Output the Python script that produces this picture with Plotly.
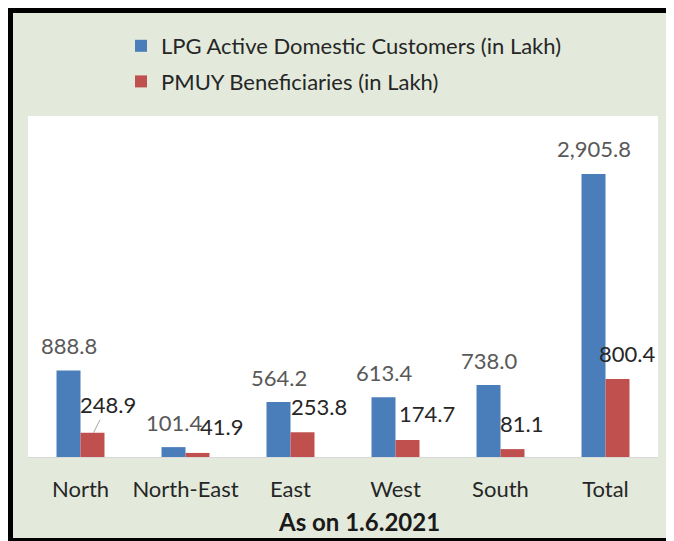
"""
LPG active domestic customers vs PMUY beneficiaries by region, grouped bar chart.
"""
import plotly.graph_objects as go

# data
regions = ["North", "North-East", "East", "West", "South", "Total"]
lpg_customers = [888.8, 101.4, 564.2, 613.4, 738.0, 2905.8]
pmuy_beneficiaries = [248.9, 41.9, 253.8, 174.7, 81.1, 800.4]
lpg_labels = ["888.8", "101.4", "564.2", "613.4", "738.0", "2,905.8"]
pmuy_labels = ["248.9", "41.9", "253.8", "174.7", "81.1", "800.4"]

# figure geometry (pixels, figure coords; the page adds an 8px body margin)
W, H = 658, 533
L, R, T, B = 20, 650, 108, 449

BLUE = "#4a7ebb"
RED = "#c0504d"
GREEN_BG = "#e3eadc"
FONT = "Lato"

# manual label nudges for the red series (px), like the dragged excel labels
red_dx = [14, 24, 16, 19, 9, 9]
red_leader = [True, False, False, False, False, False]


def px_x(px):
    return (px - L) / (R - L)


def px_y(py):
    return (B - py) / (B - T)


fig = go.Figure()

fig.add_trace(go.Bar(
    x=regions,
    y=lpg_customers,
    name="LPG Active Domestic Customers (in Lakh)",
    marker=dict(color=BLUE, line=dict(width=0)),
    legendgroup="a",
))
fig.add_trace(go.Bar(
    x=regions,
    y=pmuy_beneficiaries,
    name="PMUY Beneficiaries (in Lakh)",
    marker=dict(color=RED, line=dict(width=0)),
    legendgroup="b",
))

# data labels
annotations = []
for reg, val, lab in zip(regions, lpg_customers, lpg_labels):
    annotations.append(dict(
        x=reg, y=val, text=lab, showarrow=False,
        xshift=-12, yshift=25, yanchor="middle",
        font=dict(family=FONT, size=22, color="#595959"),
    ))
for reg, val, lab, dx, lead in zip(regions, pmuy_beneficiaries, pmuy_labels, red_dx, red_leader):
    if lead:
        annotations.append(dict(
            x=reg, y=val, text=lab, showarrow=True,
            xshift=13, ax=dx, ay=-28, arrowhead=0,
            arrowwidth=1, arrowcolor="#a6a6a6",
            font=dict(family=FONT, size=22, color="#262626"),
        ))
    else:
        annotations.append(dict(
            x=reg, y=val, text=lab, showarrow=False,
            xshift=12 + dx, yshift=26, yanchor="middle",
            font=dict(family=FONT, size=22, color="#262626"),
        ))

annotations.append(dict(
    x=px_x(351), y=px_y(513), xref="paper", yref="paper",
    text="<b>As on 1.6.2021</b>", showarrow=False,
    xanchor="center", yanchor="middle",
    font=dict(family=FONT, size=24, color="#1a1a1a"),
))

# thick black border on top, left and bottom of the chart
frame = [
    dict(x0=0, x1=W, y0=0, y1=5),
    dict(x0=0, x1=5, y0=0, y1=H),
    dict(x0=0, x1=W, y0=530, y1=H),
]
shapes = [
    dict(type="rect", xref="paper", yref="paper",
         x0=px_x(f["x0"]), x1=px_x(f["x1"]),
         y0=px_y(f["y1"]), y1=px_y(f["y0"]),
         fillcolor="black", line=dict(width=0), layer="above")
    for f in frame
]

fig.update_layout(
    width=W,
    height=H,
    margin=dict(l=L, r=W - R, t=T, b=H - B, pad=0),
    paper_bgcolor=GREEN_BG,
    plot_bgcolor="white",
    barmode="group",
    bargap=0.543,
    bargroupgap=0,
    font=dict(family=FONT, color="#262626"),
    showlegend=True,
    legend=dict(
        x=px_x(113), y=px_y(17), xanchor="left", yanchor="top",
        orientation="v", traceorder="grouped", tracegroupgap=4,
        bgcolor="rgba(0,0,0,0)",
        font=dict(family=FONT, size=22, color="#262626"),
    ),
    xaxis=dict(
        showline=True, linecolor="#d9d9d9", linewidth=1,
        showgrid=False, ticks="", ticklabelstandoff=13,
        tickfont=dict(family=FONT, size=22, color="#262626"),
        fixedrange=True,
    ),
    yaxis=dict(
        range=[0, 3500], visible=False, showgrid=False, fixedrange=True,
    ),
    annotations=annotations,
    shapes=shapes,
)

fig.write_html("out.html")
